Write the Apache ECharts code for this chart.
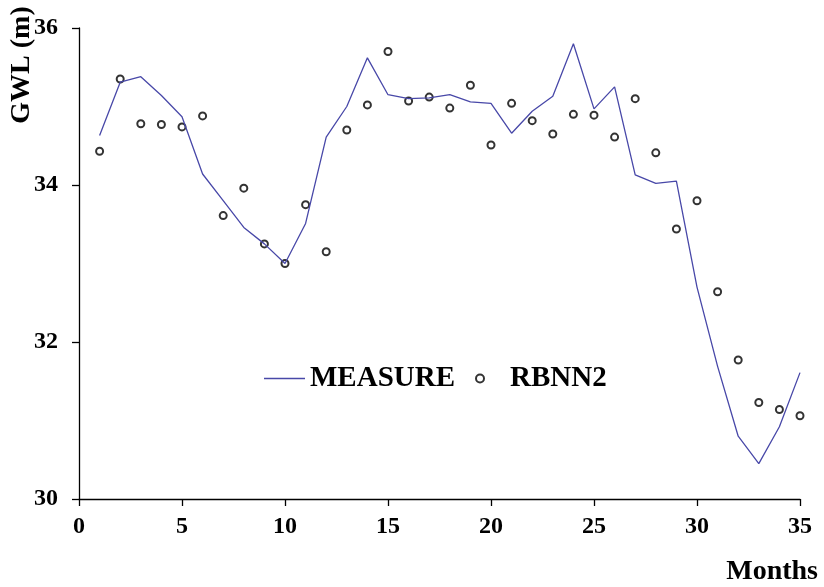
<!DOCTYPE html>
<html>
<head>
<meta charset="utf-8">
<script src="https://cdn.jsdelivr.net/npm/echarts@6/dist/echarts.min.js"></script>
<style>html,body{margin:0;padding:0;background:#fff}#c{width:824px;height:587px}</style>
</head>
<body>
<div id="c"></div>
<script>
var months = [1,2,3,4,5,6,7,8,9,10,11,12,13,14,15,16,17,18,19,20,21,22,23,24,25,26,27,28,29,30,31,32,33,34,35];
var measure = [34.63,35.31,35.38,35.14,34.87,34.14,33.80,33.46,33.25,33.00,33.51,34.61,35.00,35.62,35.15,35.10,35.11,35.15,35.06,35.04,34.66,34.94,35.13,35.80,34.97,35.25,34.13,34.02,34.05,32.70,31.69,30.80,30.45,30.92,31.61];
var rbnn2 = [34.43,35.35,34.78,34.77,34.74,34.88,33.61,33.96,33.25,33.00,33.75,33.15,34.70,35.02,35.70,35.07,35.12,34.98,35.27,34.51,35.04,34.82,34.65,34.90,34.89,34.61,35.10,34.41,33.44,33.80,32.64,31.77,31.23,31.14,31.06];
var xTicks = {min: 0, max: 35, interval: 5};
var yTicks = {min: 30, max: 36, interval: 2};
var seriesNames = ['MEASURE', 'RBNN2'];

var font = 'Liberation Serif';
var lineColor = '#4848a8';
function pairs(vals){ return months.map(function(m,i){ return [m, vals[i]]; }); }

var chart = echarts.init(document.getElementById('c'), null, {renderer:'canvas'});
chart.setOption({
  animation: false,
  backgroundColor: '#fff',
  grid: {left: 79, right: 24, top: 28, bottom: 88, containLabel: false},
  legend: [{
    data: [{name: seriesNames[0], icon: 'rect', itemStyle: {color: lineColor}}],
    left: 264, top: 364, padding: 0,
    itemWidth: 41, itemHeight: 1.5,
    textStyle: {fontFamily: font, fontWeight: 'bold', fontSize: 29, color: '#000'}
  },{
    data: [{name: seriesNames[1], icon: 'emptyCircle', itemStyle: {color: '#000', borderColor: '#000', borderWidth: 2.4}}],
    left: 475, top: 364, padding: 0,
    itemWidth: 8, itemHeight: 8,
    textStyle: {fontFamily: font, fontWeight: 'bold', fontSize: 29, color: '#000', padding: [0,0,0,21]}
  }],
  xAxis: {
    type: 'value', min: xTicks.min, max: xTicks.max, interval: xTicks.interval,
    splitLine: {show: false},
    axisLine: {lineStyle: {color: '#000', width: 1.3}},
    axisTick: {show: true, inside: false, length: 7, lineStyle: {color: '#000', width: 1.3}},
    axisLabel: {margin: 16, fontFamily: font, fontWeight: 'bold', fontSize: 24, color: '#000'}
  },
  yAxis: {
    type: 'value', min: yTicks.min, max: yTicks.max, interval: yTicks.interval,
    splitLine: {show: false},
    axisLine: {show: true, lineStyle: {color: '#000', width: 1.3}},
    axisTick: {show: true, inside: false, length: 7, lineStyle: {color: '#000', width: 1.3}},
    axisLabel: {margin: 21, fontFamily: font, fontWeight: 'bold', fontSize: 24, color: '#000'}
  },
  graphic: [{
    type: 'text', x: 22, y: 65, rotation: Math.PI/2,
    style: {text: 'GWL (m)', fontFamily: font, fontWeight: 'bold', fontSize: 28, fill: '#000', align: 'center', verticalAlign: 'middle'}
  },{
    type: 'text', x: 818, y: 572,
    style: {text: 'Months', fontFamily: font, fontWeight: 'bold', fontSize: 28, fill: '#000', align: 'right', verticalAlign: 'middle'}
  }],
  series: [{
    name: seriesNames[0], type: 'line', data: pairs(measure),
    symbol: 'none', showSymbol: false,
    lineStyle: {color: lineColor, width: 1.3},
    itemStyle: {color: lineColor}
  },{
    name: seriesNames[1], type: 'scatter', data: pairs(rbnn2),
    symbol: 'emptyCircle', symbolSize: 7,
    itemStyle: {color: '#000', borderColor: '#000', borderWidth: 2.6}
  }]
});
</script>
</body>
</html>
